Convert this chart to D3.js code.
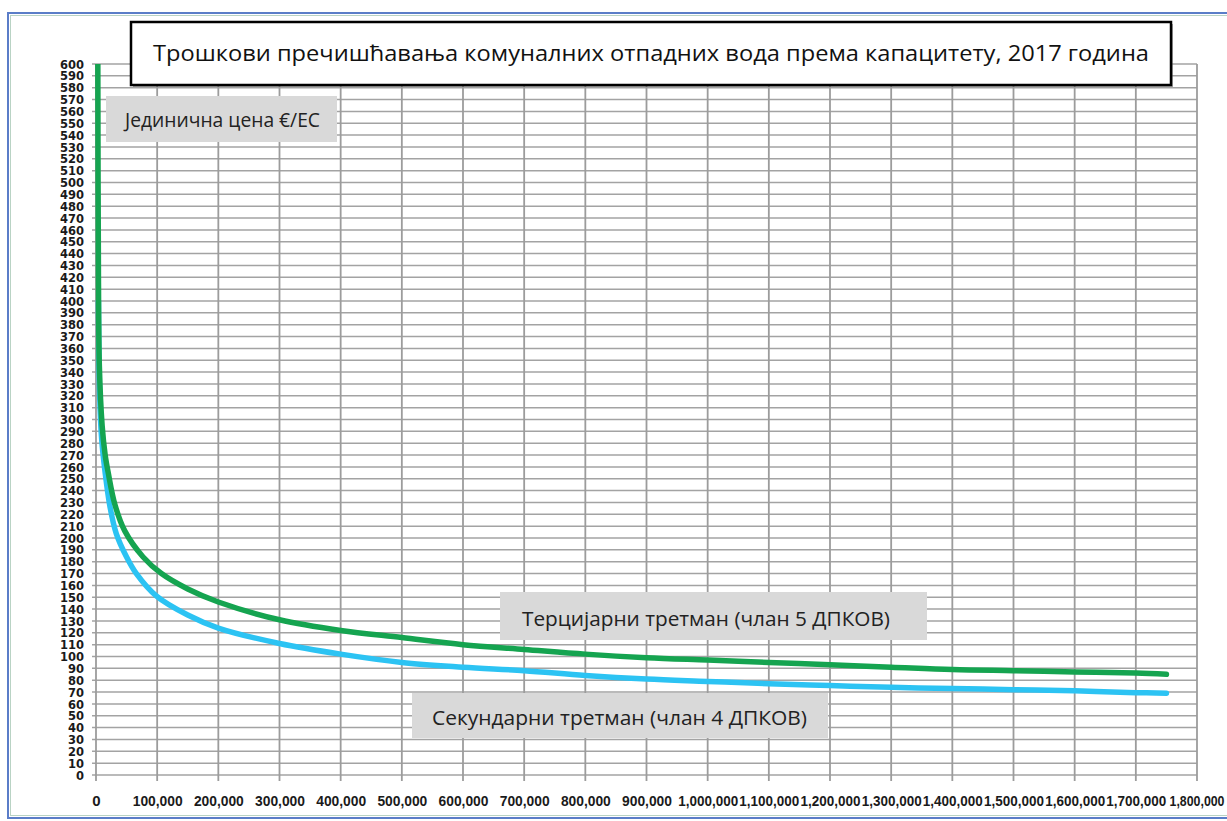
<!DOCTYPE html>
<html>
<head>
<meta charset="utf-8">
<script src="https://cdn.jsdelivr.net/npm/d3@7"></script>
<style>
  html, body { margin: 0; padding: 0; background: #fff; }
  svg { display: block; }
</style>
</head>
<body>
<svg id="chart" width="1227" height="821"></svg>
<script>
// Capacity in population equivalents (ЕС) and unit cost in €/ЕС
const tertiaryCap  = [3000, 4000, 5500, 10000, 15000, 20000, 31000, 47000, 77000, 107000, 150000, 200000, 300000, 400000, 500000, 600000, 700000, 800000, 900000, 1000000, 1100000, 1200000, 1300000, 1400000, 1500000, 1600000, 1700000, 1750000];
const tertiaryCost = [600, 420, 345, 295, 270, 255, 228, 206, 184, 170, 157, 146, 131, 122, 116, 110, 106, 102, 99, 97, 95, 93, 91, 89, 88, 87, 86, 85];

const secondaryCap  = [4000, 6000, 9300, 15000, 23000, 33000, 50000, 66000, 99000, 150000, 200000, 300000, 400000, 500000, 600000, 700000, 800000, 900000, 1000000, 1100000, 1200000, 1300000, 1400000, 1500000, 1600000, 1700000, 1750000];
const secondaryCost = [400, 320, 283, 255, 226, 204, 184, 170, 151, 135, 124, 111, 102, 95, 91, 88, 84, 81, 79, 77, 75.5, 74, 73, 72, 71, 69.5, 69];

const yTicks = d3.range(0, 601, 10);
const xTicks = d3.range(0, 1800001, 100000);

const titleText = "Трошкови пречишћавања комуналних отпадних вода према капацитету, 2017 година";
const unitText = "Јединична цена €/ЕС";
const tertiaryText = "Терцијарни третман (члан 5 ДПКОВ)";
const secondaryText = "Секундарни третман (члан 4 ДПКОВ)";

const svg = d3.select("#chart");
const plot = { left: 96, right: 1197, top: 64, bottom: 775 };

const x = d3.scaleLinear().domain([0, 1800000]).range([plot.left, plot.right]);
const y = d3.scaleLinear().domain([0, 600]).range([plot.bottom, plot.top]);

// outer frame
svg.append("rect").attr("x", 8).attr("y", 13).attr("width", 1240).attr("height", 805)
  .attr("fill", "#fff").attr("stroke", "#5b7dc8").attr("stroke-width", 2);
svg.append("rect").attr("x", 10.5).attr("y", 15.5).attr("width", 1240).attr("height", 800)
  .attr("fill", "none").attr("stroke", "#b9d3c4").attr("stroke-width", 1);

// grid
const grid = svg.append("g");
grid.selectAll("line.h").data(yTicks).join("line")
  .attr("x1", plot.left - 4).attr("x2", plot.right)
  .attr("y1", d => y(d)).attr("y2", d => y(d))
  .attr("stroke", "#a3a3a3").attr("stroke-width", 1.5);
grid.selectAll("line.v").data(xTicks).join("line")
  .attr("x1", d => x(d)).attr("x2", d => x(d))
  .attr("y1", plot.top).attr("y2", plot.bottom + 6)
  .attr("stroke", "#9c9c9c").attr("stroke-width", 1.8);

// axes (labels only; the grid carries the lines)
const yAxis = svg.append("g").attr("transform", `translate(${plot.left},0)`)
  .call(d3.axisLeft(y).tickValues(yTicks).tickSize(0).tickPadding(12).tickFormat(d3.format("d")));
yAxis.select(".domain").remove();
yAxis.selectAll("text")
  .attr("font-family", "'DejaVu Sans Condensed', 'DejaVu Sans', sans-serif")
  .attr("font-weight", "bold").attr("font-size", 11.5).attr("fill", "#1a1a1a")
  .attr("textLength", 24).attr("lengthAdjust", "spacingAndGlyphs")
  .attr("dy", "0.36em");
yAxis.selectAll("text").filter(d => d < 100).attr("textLength", d => d === 0 ? 8 : 16);

const xMax = xTicks[xTicks.length - 1];
const xAxis = svg.append("g").attr("transform", `translate(0,${plot.bottom})`)
  .call(d3.axisBottom(x).tickValues(xTicks).tickSize(0).tickPadding(20).tickFormat(d => d === 0 ? "0" : d3.format(",")(d)));
xAxis.select(".domain").remove();
xAxis.selectAll("text")
  .attr("font-family", "'Liberation Sans Narrow', 'Liberation Sans', Arial, sans-serif")
  .attr("font-weight", "bold").attr("font-size", 15).attr("fill", "#1a1a1a")
  .each(function (d) {
    if (d === 0) return;
    // squeeze the labels horizontally to the narrow axis font width
    const target = d === xMax ? 55 : (d >= 1000000 ? 60 : 50);
    const natural = this.getComputedTextLength();
    const sx = Math.min(1, target / natural);
    const el = d3.select(this);
    if (d === xMax) {
      // the last label sits against the right border
      el.attr("text-anchor", "end")
        .attr("transform", `translate(${1224 - x(xMax)},0) scale(${sx},1)`);
    } else {
      el.attr("transform", `scale(${sx},1)`);
    }
  });

// curves
svg.append("clipPath").attr("id", "plotClip").append("rect")
  .attr("x", plot.left - 4).attr("y", plot.top).attr("width", plot.right - plot.left + 8).attr("height", plot.bottom - plot.top);

const line = d3.line().x(d => x(d[0])).y(d => y(d[1])).curve(d3.curveCatmullRom.alpha(0.5));
const curves = svg.append("g").attr("clip-path", "url(#plotClip)");
curves.append("path").datum(d3.zip(secondaryCap, secondaryCost))
  .attr("d", line).attr("fill", "none").attr("stroke", "#2cc3f3").attr("stroke-width", 5.5)
  .attr("stroke-linecap", "round").attr("stroke-linejoin", "round");
curves.append("path").datum(d3.zip(tertiaryCap, tertiaryCost))
  .attr("d", line).attr("fill", "none").attr("stroke", "#15a450").attr("stroke-width", 5.5)
  .attr("stroke-linecap", "round").attr("stroke-linejoin", "round");

// title box
const fontMain = "'Open Sans', 'Noto Sans', sans-serif";
svg.append("rect").attr("x", 133).attr("y", 24).attr("width", 1040).attr("height", 63)
  .attr("fill", "#555").attr("opacity", 0.5);
svg.append("rect").attr("x", 131).attr("y", 22).attr("width", 1040).attr("height", 63)
  .attr("fill", "#fff").attr("stroke", "#000").attr("stroke-width", 2.5);
svg.append("text").attr("x", 651).attr("y", 61).attr("text-anchor", "middle")
  .attr("font-family", fontMain).attr("font-size", 22).attr("fill", "#111")
  .attr("textLength", 996).attr("lengthAdjust", "spacingAndGlyphs")
  .text(titleText);

// annotation boxes
function labelBox(bx, by, bw, bh, tx, ty, tw, txt) {
  svg.append("rect").attr("x", bx).attr("y", by).attr("width", bw).attr("height", bh).attr("fill", "#d9d9d9");
  svg.append("text").attr("x", tx).attr("y", ty)
    .attr("font-family", fontMain).attr("font-size", 20).attr("fill", "#222")
    .attr("textLength", tw).attr("lengthAdjust", "spacingAndGlyphs")
    .text(txt);
}
labelBox(106, 96, 231, 46, 125, 127, 195, unitText);
labelBox(500, 592, 427, 48, 522, 626, 368, tertiaryText);
labelBox(412, 693, 416, 45, 432, 725, 375, secondaryText);
</script>
</body>
</html>
